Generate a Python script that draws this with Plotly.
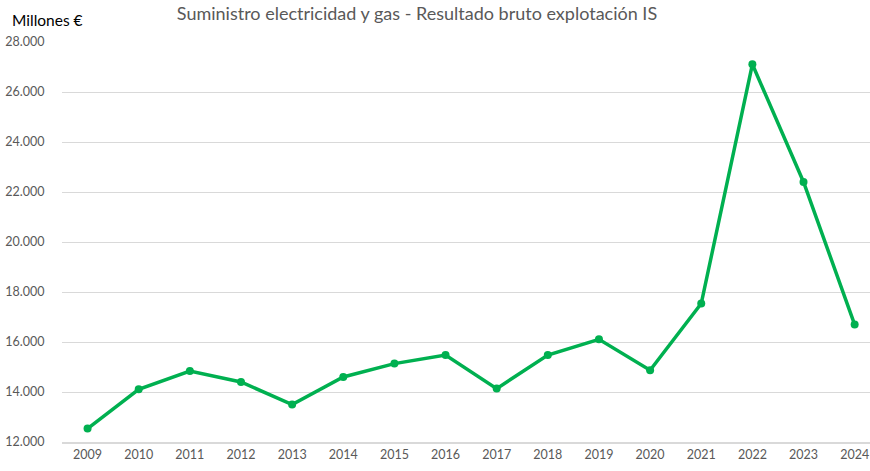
import plotly.graph_objects as go

years = ["2009", "2010", "2011", "2012", "2013", "2014", "2015", "2016",
         "2017", "2018", "2019", "2020", "2021", "2022", "2023", "2024"]
values = [12536, 14108, 14840, 14400, 13496, 14600, 15136, 15480,
          14136, 15480, 16108, 14868, 17536, 27108, 22400, 16696]
y_ticks = [12000, 14000, 16000, 18000, 20000, 22000, 24000, 26000, 28000]
y_tick_labels = ["12.000", "14.000", "16.000", "18.000", "20.000",
                 "22.000", "24.000", "26.000", "28.000"]

title_text = "Suministro electricidad y gas - Resultado bruto explotación IS"
unit_text = "Millones €"

GREEN = "#00B050"
GRAY_TEXT = "#595959"
GRID = "#d9d9d9"
FONT = "Lato, 'Open Sans', sans-serif"

fig = go.Figure()
fig.add_trace(go.Scatter(
    x=list(range(len(years))), y=values,
    mode="lines+markers",
    line=dict(color=GREEN, width=3.5),
    marker=dict(color=GREEN, size=8),
    hoverinfo="skip",
    showlegend=False,
    cliponaxis=False,
))

fig.update_layout(
    width=870, height=471,
    margin=dict(l=62, r=0, t=42, b=29),
    paper_bgcolor="white",
    plot_bgcolor="white",
    font=dict(family=FONT, color=GRAY_TEXT, size=12),
    title=dict(text=title_text, x=417 / 870, xanchor="center",
               y=1 - 14 / 471, yanchor="middle",
               font=dict(size=18, color=GRAY_TEXT, family=FONT)),
    xaxis=dict(
        range=[-0.5, 15.3],
        tickmode="array",
        tickvals=list(range(len(years))),
        ticktext=years,
        showgrid=False,
        showline=True, linecolor=GRID, linewidth=1.5,
        ticks="", zeroline=False,
        tickfont=dict(size=12.5, color=GRAY_TEXT),
        fixedrange=True,
    ),
    yaxis=dict(
        range=[12000, 28000],
        tickmode="array",
        tickvals=y_ticks,
        ticktext=y_tick_labels,
        showgrid=True, gridcolor=GRID, gridwidth=1,
        zeroline=False, showline=False,
        ticks="outside", ticklen=14, tickcolor="rgba(0,0,0,0)",
        tickfont=dict(size=12.5, color=GRAY_TEXT),
        fixedrange=True,
    ),
    annotations=[dict(
        text=unit_text, xref="paper", yref="paper",
        x=-52 / 808, y=1 + 22 / 400, xanchor="left", yanchor="middle",
        showarrow=False, font=dict(size=15.5, color="black", family=FONT),
    )],
)

fig.write_html(
    "out.html",
    config={"displayModeBar": False},
    post_script="document.body.style.margin='0';document.body.style.overflow='hidden';",
)
